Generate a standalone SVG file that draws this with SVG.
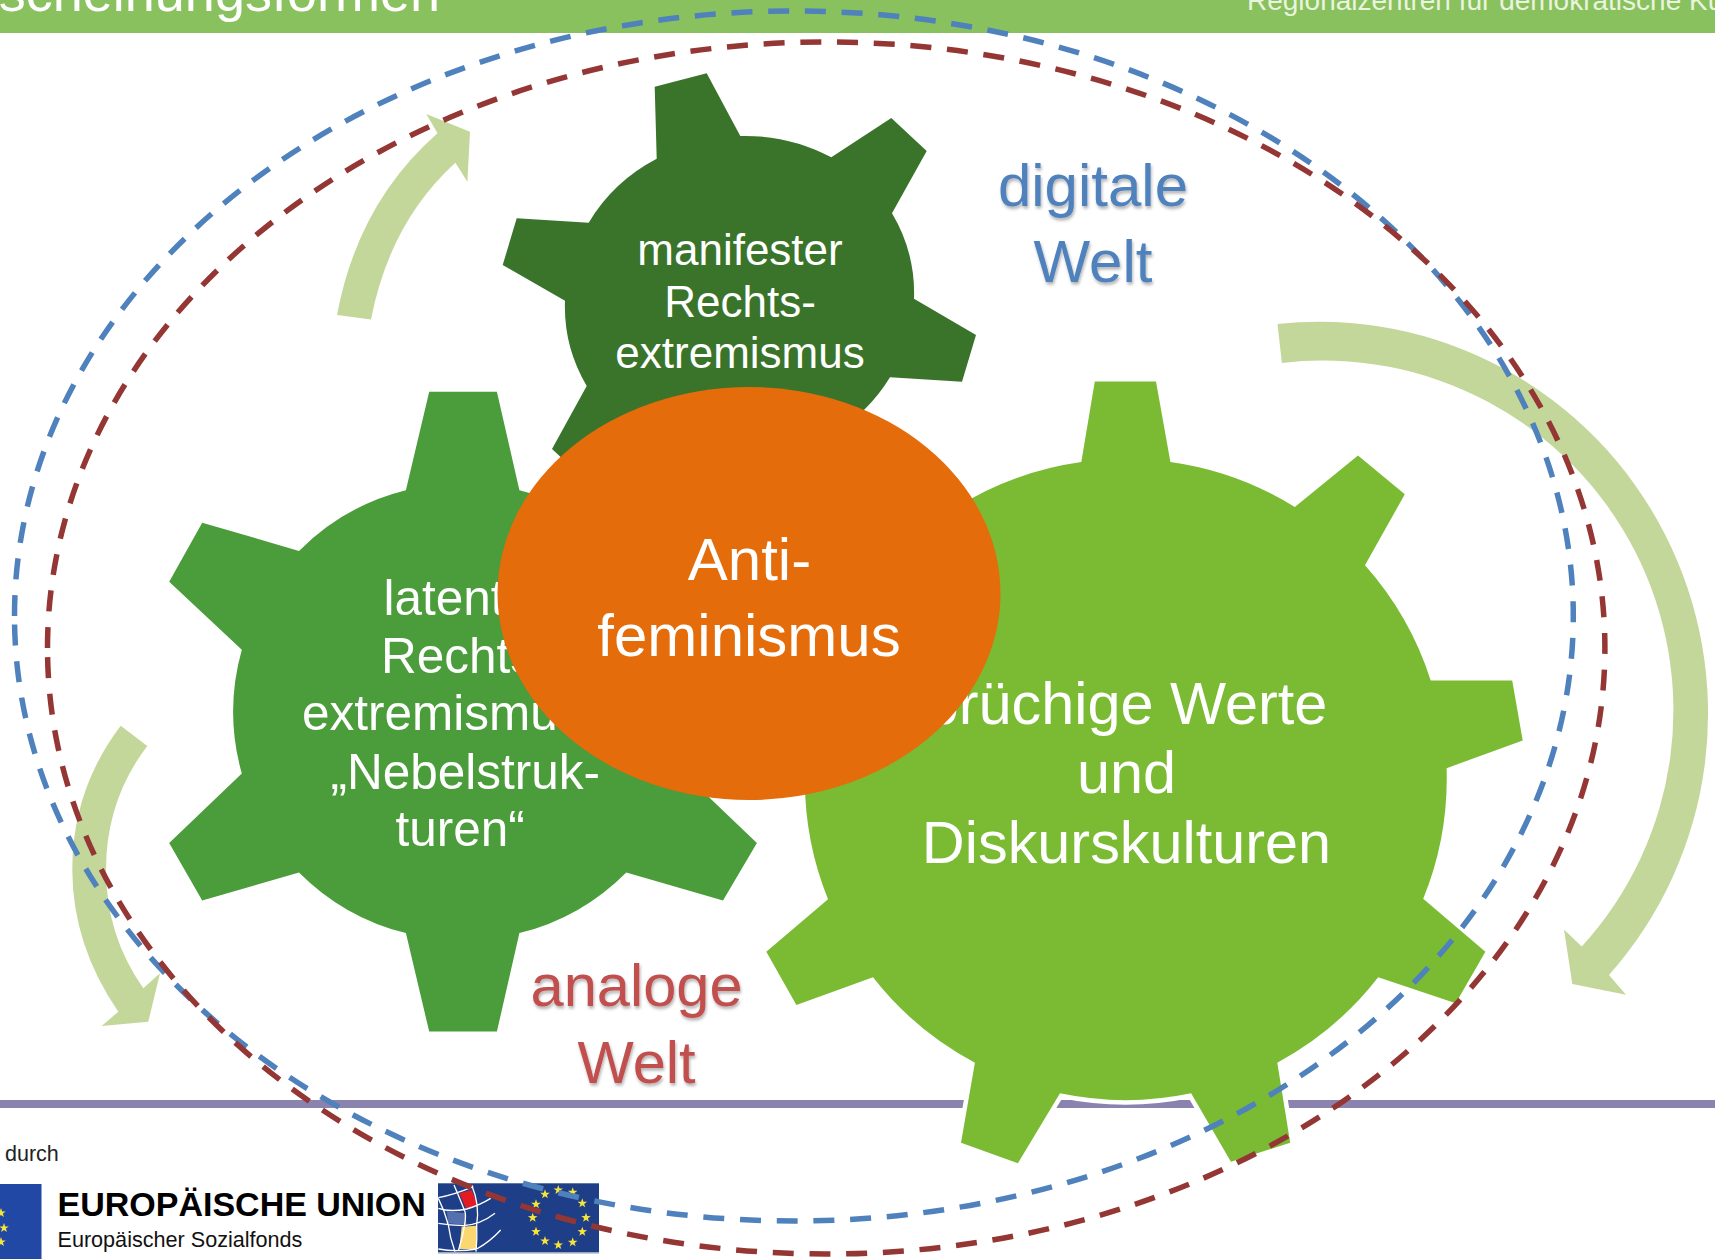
<svg xmlns="http://www.w3.org/2000/svg" width="1715" height="1259" viewBox="0 0 1715 1259">
<style>
text{font-family:"Liberation Sans",Arial,sans-serif}
.gt{fill:#fff;text-anchor:middle}
.gear{stroke:#fff;stroke-width:9;stroke-linejoin:round;paint-order:stroke}
.arrow{fill:#C4D79B}
.dash{fill:none;stroke-width:5.5;stroke-dasharray:21 15.75}
.world{font-size:60px;text-anchor:middle;filter:url(#sh)}
.star{fill:#F6E43A}
.grid{fill:none;stroke:#fff;stroke-width:4}
</style>
<defs>
<filter id="sh" x="-10%" y="-10%" width="125%" height="130%"><feDropShadow dx="1" dy="2.5" stdDeviation="1.6" flood-color="#000" flood-opacity=".3"/></filter>
<polygon id="s" points="0,-5 1.2,-1.6 4.8,-1.5 1.9,.6 2.9,4 0,2 -2.9,4 -1.9,.6 -4.8,-1.5 -1.2,-1.6"/>
</defs>
<rect width="1715" height="1259" fill="#fff"/>
<g id="header">
<rect width="1715" height="33" fill="#89C15F"/>
<text x="440" y="11" font-size="54" fill="#fff" text-anchor="end">scheinungsformen</text>
<text x="1247" y="9.5" font-size="28" fill="#E9F4DE">Regionalzentren für demokratische Ku</text>
</g>
<g id="footer">
<rect y="1100" width="1715" height="8" fill="#8B83AF"/>
<text x="5" y="1161" font-size="21.5" fill="#222">durch</text>
<rect x="-20" y="1184" width="61.5" height="75" fill="#2248A5"/>
<g class="star"><use href="#s" x="1" y="1213"/><use href="#s" x="4" y="1228"/><use href="#s" x="1" y="1242"/></g>
<text x="57.5" y="1215.7" font-size="34" font-weight="bold" fill="#000">EUROPÄISCHE UNION</text>
<text x="57.5" y="1246.5" font-size="21.6" fill="#111">Europäischer Sozialfonds</text>
<g id="esf-logo">
<rect x="438" y="1183.3" width="161" height="69" fill="#1E3F87"/>
<rect x="438" y="1252.3" width="161" height="1.2" fill="#8C9BB5"/>
<polygon points="459.3,1193.3 471.7,1190 477.3,1205 466,1208.3" fill="#E31B23"/>
<polygon points="446.7,1211 465,1213.3 466.7,1225 448.3,1223.3" fill="#5570AE"/>
<polygon points="461.7,1226.7 476,1225.7 476.7,1249 459.3,1249" fill="#FBD772"/>
<g transform="translate(430 1175) scale(.3333)"><path class="grid" d="M25,68Q70,60 130,35M25,100Q60,112 110,102Q150,90 182,70M25,145Q60,150 100,152Q150,150 195,115M25,222Q80,232 140,222Q180,200 212,165M72,30Q85,60 105,110Q112,135 85,228M125,30Q150,90 140,150Q142,190 138,230M25,70Q45,110 55,150Q60,190 75,230"/></g>
<g class="star"><use href="#s" x="558.3" y="1190"/><use href="#s" x="572.7" y="1192.3"/><use href="#s" x="582.3" y="1203.3"/><use href="#s" x="586" y="1217.7"/><use href="#s" x="582.3" y="1231.7"/><use href="#s" x="572.7" y="1242.3"/><use href="#s" x="558.3" y="1245"/><use href="#s" x="545" y="1241"/><use href="#s" x="536" y="1231.7"/><use href="#s" x="532.7" y="1217.7"/><use href="#s" x="536" y="1204.3"/><use href="#s" x="545" y="1194.3"/></g>
</g>
</g>
<g id="gear-dark">
<path class="gear" fill="#3A742B" d="M654.7,86.7L706.7,73.3L740.3,136A175,164 0 0 1 831.3,157.3L891.3,118L926.7,151L892,213.3A175,164 0 0 1 914,298.7L976,335L962,381.7L890,377.3A175,164 0 0 1 864,410L824,513L772,527L738.5,464A175,164 0 0 1 647.5,442.7L587.5,482L552,449L586.7,386A175,164 0 0 1 565,300.7L502.7,265L516.7,218.3L588.7,222.7A175,164 0 0 1 656.7,158.7Z"/>
<text class="gt" font-size="44"><tspan x="740" y="265">manifester</tspan><tspan x="740" y="316.7">Rechts-</tspan><tspan x="740" y="368">extremismus</tspan></text>
</g>
<g id="gear-mid">
<path class="gear" fill="#4B9C3A" d="M429.2,391.7H496.9L519.4,490.2A228.5,228.5 0 0 1 627,550.9L723.8,522.7L756.8,581.7L684.2,649.8A228.5,228.5 0 0 1 684.2,773.5L756.9,842.9L723,900.6L626.3,872.4A228.5,228.5 0 0 1 519.4,933.1L496.9,1031.6H429.2L405.9,933.1A228.5,228.5 0 0 1 299,872.4L202.2,900.6L169.2,842.9L241.8,773.5A228.5,228.5 0 0 1 241.8,649.8L169.2,581.7L202.2,522.7L299,550.9A228.5,228.5 0 0 1 405.9,490.2Z"/>
<text fill="#fff" font-size="49.5"><tspan x="383.5" y="615">latenter</tspan><tspan x="381" y="672.8">Rechts-</tspan><tspan x="302" y="730">extremismus</tspan><tspan x="330.5" y="788.6">„Nebelstruk-</tspan><tspan x="395.5" y="846">turen“</tspan></text>
</g>
<g id="gear-light">
<path class="gear" fill="#7BBB34" d="M1094.8,381.6H1156L1170.4,462A320,320 0 0 1 1294.8,507L1358,455.5L1404.8,494.3L1365,565.3A320,320 0 0 1 1430.7,680.4H1512.2L1522.7,740.4L1446.6,768.2A320,320 0 0 1 1423.2,898.8L1485.4,951.7L1455.7,1003.3L1378.2,977.3A320,320 0 0 1 1277.3,1062.7L1290.2,1142.7L1230.9,1161.7L1191.1,1093.3A320,320 0 0 1 1060,1093.3L1017.9,1163.3L961,1142.7L974.9,1062.7A320,320 0 0 1 873,977.3L796.4,1005L766.3,951.7L828,899.3A320,320 0 0 1 805.1,768.2L729,740.4L739.5,680.4H821A320,320 0 0 1 886.7,565.3L846.9,494.3L893.7,455.5L956.9,507A320,320 0 0 1 1081.3,462Z"/>
<text class="gt" font-size="59.4"><tspan x="1126.5" y="724">brüchige Werte</tspan><tspan x="1126.5" y="793">und</tspan><tspan x="1126.5" y="863">Diskurskulturen</tspan></text>
</g>
<g id="center">
<ellipse cx="749" cy="593.5" rx="251.5" ry="206.5" fill="#E46C0A"/>
<text class="gt" font-size="60"><tspan x="749.5" y="579.5">Anti-</tspan><tspan x="749" y="656">feminismus</tspan></text>
</g>
<g id="labels">
<text class="world" fill="#4F81BD"><tspan x="1093" y="206">digitale</tspan><tspan x="1093" y="282">Welt</tspan></text>
<text class="world" fill="#C0504D" style="font-size:59.6px"><tspan x="636.6" y="1006">analoge</tspan><tspan x="636.6" y="1083">Welt</tspan></text>
</g>
<g id="connectors">
<path class="arrow" d="M337,315Q358,203 437.5,133.3L426.3,114L470,131.7L467.4,181.7L455.4,162.7Q390,222 371,319.4Z"/>
<path class="arrow" d="M1277.5,323.9A389,392 0 0 1 1609,975L1626,994.7L1572.3,984L1564,929.5L1581.7,946.5A350.7,350 0 0 0 1281.9,362.9Z"/>
<path class="arrow" d="M120.7,725.7Q72,790 72.3,870Q72.5,945 118.3,1011.7L101.7,1026L148.3,1021.7L160,973.3L143.3,988.3Q106,935 106,870Q106,800 147.3,746Z"/>
<path class="dash" stroke="#4F81BD" d="M14.5,616A779.4,605 0 0 1 1573.3,616A779.4,605 0 0 1 14.5,616Z"/>
<path class="dash" stroke="#943634" d="M47.5,648A778.7,606 0 0 1 1604.9,648A778.7,606 0 0 1 47.5,648Z"/>
</g>
</svg>
